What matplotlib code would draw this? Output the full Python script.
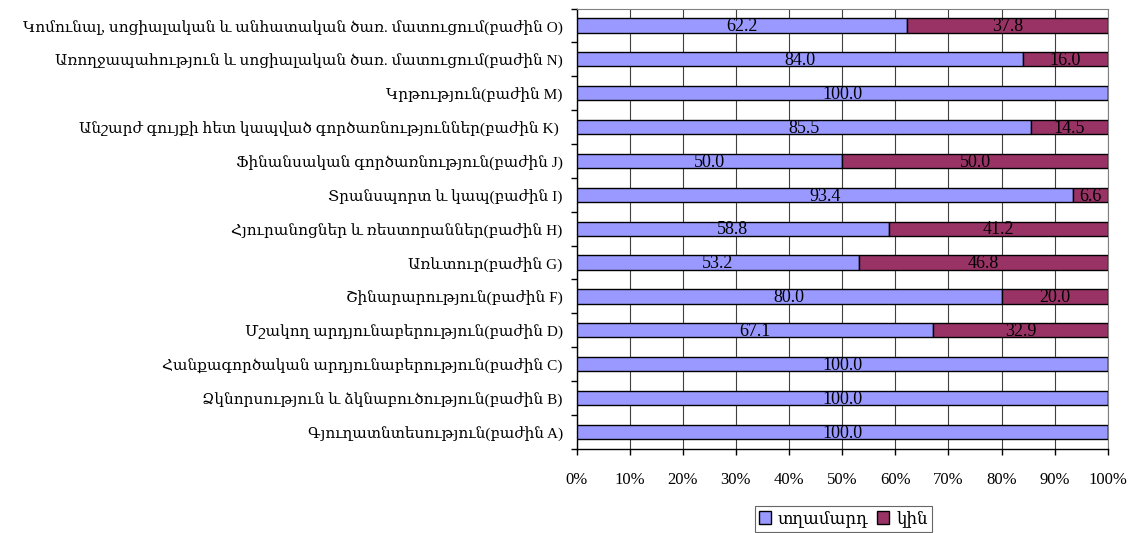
import matplotlib
matplotlib.use('Agg')
import matplotlib.pyplot as plt
from matplotlib.ticker import FixedLocator

plt.rcParams['font.family'] = ['Liberation Serif', 'DejaVu Serif']

# sections, bottom to top
sections = [
    'Գյուղատնտեսություն(բաժին A)',
    'Ձկնորսություն և ձկնաբուծություն(բաժին B)',
    'Հանքագործական արդյունաբերություն(բաժին C)',
    'Մշակող արդյունաբերություն(բաժին D)',
    'Շինարարություն(բաժին F)',
    'Առևտուր(բաժին G)',
    'Հյուրանոցներ և ռեստորաններ(բաժին H)',
    'Տրանսպորտ և կապ(բաժին I)',
    'Ֆինանսական գործառնություն(բաժին J)',
    'Անշարժ գույքի հետ կապված գործառնություններ(բաժին K) ',
    'Կրթություն(բաժին M)',
    'Առողջապահություն և սոցիալական ծառ. մատուցում(բաժին N)',
    'Կոմունալ, սոցիալական և անհատական ծառ. մատուցում(բաժին O)',
]
men = [100.0, 100.0, 100.0, 67.1, 80.0, 53.2, 58.8, 93.4, 50.0, 85.5, 100.0, 84.0, 62.2]
women = [0.0, 0.0, 0.0, 32.9, 20.0, 46.8, 41.2, 6.6, 50.0, 14.5, 0.0, 16.0, 37.8]
series_names = ['տղամարդ', 'կին']
xticks = [0, 10, 20, 30, 40, 50, 60, 70, 80, 90, 100]

fig = plt.figure(figsize=(11.35, 5.33), dpi=100)
ax = fig.add_axes([0.508, 0.158, 0.468, 0.826])

y = list(range(len(sections)))
h = 0.42
b1 = ax.barh(y, men, height=h, color='#9999FF', edgecolor='black', linewidth=1, label=series_names[0], zorder=3)
b2 = ax.barh(y, women, left=men, height=h, color='#993366', edgecolor='black', linewidth=1, label=series_names[1], zorder=3)

# value labels sit on the bottom edge of each segment
for i in y:
    ax.text(men[i] / 2, i - h / 2 + 0.04, '%.1f' % men[i], ha='center', va='baseline', fontsize=13, zorder=4)
    if women[i] > 0:
        ax.text(men[i] + women[i] / 2, i - h / 2 + 0.04, '%.1f' % women[i], ha='center', va='baseline', fontsize=13, zorder=4)

ax.set_xlim(0, 100)
ax.set_ylim(-0.5, len(sections) - 0.5)
ax.set_xticks(xticks)
ax.set_xticklabels(['%d%%' % t for t in xticks], fontsize=12)
ax.tick_params(axis='x', direction='out', length=4, width=1, pad=13)

ax.set_yticks(y)
ax.set_yticklabels(sections, fontsize=11)
ax.tick_params(axis='y', which='major', length=0, pad=10)
ax.yaxis.set_minor_locator(FixedLocator([i - 0.5 for i in range(len(sections) + 1)]))
ax.tick_params(axis='y', which='minor', direction='out', length=4, width=1)

ax.grid(axis='x', color='#404040', linewidth=0.8, zorder=0)
for s in ['top', 'right']:
    ax.spines[s].set_color('#808080')
    ax.spines[s].set_linewidth(0.8)
for s in ['left', 'bottom']:
    ax.spines[s].set_color('black')
    ax.spines[s].set_linewidth(1)

leg = fig.legend(handles=[b1, b2], loc='upper center', bbox_to_anchor=(0.743, 0.05), ncol=2,
                 fontsize=12, frameon=True, fancybox=False, edgecolor='#404040',
                 handlelength=0.75, handleheight=0.75, handletextpad=0.4, columnspacing=0.5,
                 borderpad=0.25, borderaxespad=0)
leg.get_frame().set_linewidth(0.8)

fig.savefig('out.png', dpi=100)
